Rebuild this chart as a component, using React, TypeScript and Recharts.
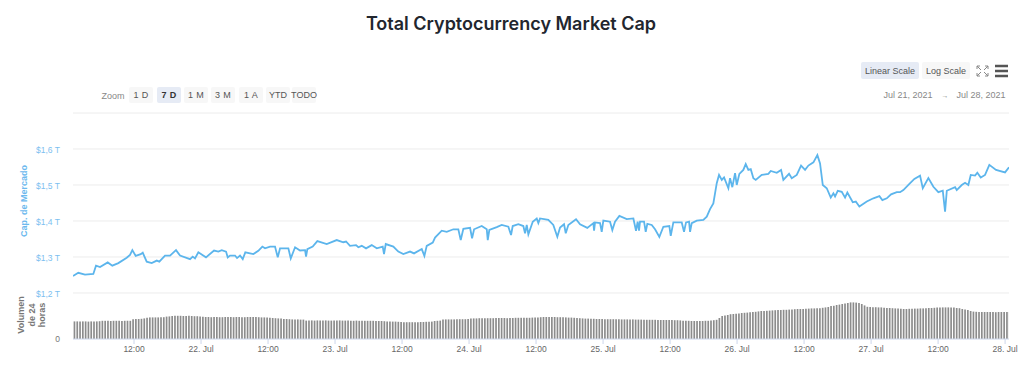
import React from "react";
import { ComposedChart, Line, Bar, XAxis, YAxis, CartesianGrid } from "recharts";

const TITLE = "Total Cryptocurrency Market Cap";
const ZOOM_BUTTONS = ["1 D", "7 D", "1 M", "3 M", "1 A", "YTD", "TODO"];
const ACTIVE_ZOOM = "7 D";
const SCALE_BUTTONS = ["Linear Scale", "Log Scale"];
const PRICE_TICKS = [1.2, 1.3, 1.4, 1.5, 1.6, 1.7];
const TIME_TICKS = [12, 24, 36, 48, 60, 72, 84, 96, 108, 120, 132, 144, 156, 168];
const DAY_LABELS: Record<number, string> = { 24: "22. Jul", 48: "23. Jul", 72: "24. Jul", 96: "25. Jul", 120: "26. Jul", 144: "27. Jul", 168: "28. Jul" };

// hours since Jul 21 00:00
const priceHours = [
  1.07, 2.02, 3.22, 4.71, 5.19, 5.91, 7.29, 8.11, 9.19, 10.69, 11.28, 11.7, 12.3, 13.2, 13.56, 14.27, 15.17, 16.07, 16.53, 17.55,
  18.45, 19.52, 20.24, 22.03, 22.51, 22.92, 23.52, 24.89, 26.33, 27.1, 27.71, 28.48, 28.78, 29.19, 30.09, 30.45, 30.98, 31.47, 31.93, 32.78,
  33.37, 34.26, 34.98, 35.46, 36.36, 37.25, 37.74, 38.15, 39.64, 40.07, 40.84, 41.73, 42.63, 42.81, 43.04, 44.0, 44.83, 46.51, 48.3, 49.48,
  49.97, 50.68, 51.76, 52.17, 52.78, 53.55, 54.57, 55.47, 56.54, 56.77, 57.08, 58.44, 59.33, 60.23, 61.43, 62.15, 63.53, 64.0, 64.42, 65.5,
  65.91, 67.11, 68.0, 69.19, 70.08, 70.51, 70.98, 72.18, 72.54, 72.9, 74.27, 75.17, 75.35, 75.63, 76.96, 77.85, 79.04, 79.52, 79.82, 80.83,
  81.72, 82.03, 82.33, 82.62, 83.41, 84.12, 84.41, 84.71, 86.2, 87.09, 87.81, 88.3, 89.01, 89.32, 89.78, 91.16, 91.88, 93.18, 94.26, 94.39,
  94.56, 95.46, 95.76, 96.05, 97.25, 97.66, 98.14, 98.92, 100.24, 101.43, 101.9, 102.2, 102.44, 102.62, 103.34, 103.64, 103.93, 104.72, 105.31, 106.08,
  106.8, 107.87, 108.12, 108.59, 110.09, 110.5, 110.86, 111.4, 111.58, 111.88, 112.78, 113.96, 114.57, 115.16, 115.75, 116.36, 116.77, 117.26, 117.67, 118.44,
  118.74, 119.15, 119.64, 119.94, 120.41, 121.12, 121.55, 122.02, 122.45, 122.92, 123.35, 124.42, 125.6, 126.03, 127.11, 127.88, 128.29, 129.31, 129.79, 130.69,
  131.46, 132.18, 132.77, 133.67, 134.38, 134.86, 135.35, 136.06, 136.78, 137.25, 137.55, 138.03, 138.75, 139.34, 139.75, 140.72, 141.26, 141.9, 143.23, 144.41,
  145.49, 146.02, 146.81, 147.58, 148.6, 149.19, 149.78, 150.86, 151.75, 152.77, 153.26, 154.26, 155.16, 156.05, 156.84, 157.25, 157.56, 159.04, 159.34, 160.24,
  160.83, 161.42, 161.85, 162.62, 163.03, 163.64, 164.41, 165.18, 166.38, 167.99, 168.7,
];

// market cap, trillions of USD
const priceValues = [
  1.247, 1.256, 1.251, 1.253, 1.276, 1.272, 1.285, 1.276, 1.283, 1.298, 1.306, 1.319, 1.303, 1.308, 1.312, 1.287, 1.283, 1.29, 1.287, 1.304,
  1.304, 1.319, 1.304, 1.294, 1.301, 1.296, 1.313, 1.299, 1.318, 1.315, 1.319, 1.315, 1.299, 1.304, 1.304, 1.297, 1.304, 1.294, 1.313, 1.31,
  1.308, 1.317, 1.329, 1.324, 1.329, 1.329, 1.299, 1.324, 1.324, 1.296, 1.327, 1.318, 1.319, 1.301, 1.322, 1.329, 1.344, 1.336, 1.347, 1.341,
  1.343, 1.331, 1.333, 1.327, 1.331, 1.324, 1.333, 1.324, 1.329, 1.308, 1.336, 1.329, 1.315, 1.308, 1.315, 1.31, 1.322, 1.303, 1.331, 1.34,
  1.354, 1.373, 1.37, 1.377, 1.377, 1.347, 1.378, 1.381, 1.352, 1.377, 1.386, 1.377, 1.347, 1.375, 1.383, 1.389, 1.384, 1.361, 1.386, 1.391,
  1.386, 1.366, 1.389, 1.363, 1.398, 1.407, 1.394, 1.407, 1.403, 1.389, 1.356, 1.382, 1.391, 1.366, 1.389, 1.405, 1.391, 1.381, 1.394, 1.373,
  1.396, 1.394, 1.37, 1.401, 1.398, 1.375, 1.398, 1.414, 1.405, 1.407, 1.373, 1.398, 1.373, 1.398, 1.398, 1.37, 1.392, 1.389, 1.377, 1.356,
  1.384, 1.386, 1.359, 1.396, 1.396, 1.37, 1.396, 1.398, 1.37, 1.394, 1.401, 1.403, 1.412, 1.433, 1.449, 1.505, 1.528, 1.514, 1.521, 1.491,
  1.519, 1.494, 1.533, 1.5, 1.531, 1.542, 1.558, 1.542, 1.544, 1.519, 1.514, 1.528, 1.531, 1.539, 1.534, 1.542, 1.514, 1.531, 1.519, 1.528,
  1.554, 1.542, 1.554, 1.563, 1.583, 1.56, 1.5, 1.491, 1.465, 1.477, 1.468, 1.484, 1.481, 1.465, 1.479, 1.452, 1.454, 1.44, 1.454, 1.463,
  1.469, 1.458, 1.463, 1.474, 1.48, 1.48, 1.486, 1.503, 1.517, 1.526, 1.491, 1.519, 1.495, 1.48, 1.484, 1.426, 1.484, 1.494, 1.486, 1.5,
  1.506, 1.5, 1.528, 1.526, 1.534, 1.521, 1.528, 1.556, 1.542, 1.535, 1.549,
];

// 24h volume, billions of USD, one bar per half hour
const volumeValues = [
  88, 88, 87, 88, 88, 87, 88, 88, 88, 89,
  91, 91, 91, 90, 91, 91, 91, 90, 91, 91, 91,
  99, 100, 100, 101, 103,
  106, 108, 108, 108, 108, 109, 109,
  112, 113, 115, 116, 116, 116, 115, 115, 116, 115, 114, 114, 113,
  111, 110, 110, 109, 110, 110, 109, 109, 110, 110, 110, 109, 110, 110, 109, 109, 110, 110, 110, 110, 109, 108, 108, 107, 106,
  105, 104, 103, 103,
  100, 100, 99, 98, 98, 98, 97, 97,
  92, 92, 93, 92, 93, 93, 93, 93, 92, 92, 92, 93, 93, 92,
  92, 92, 91, 91, 92, 91, 91, 91, 91, 91, 91, 90,
  90, 90, 89, 88, 88, 87, 87, 86, 85, 84,
  84, 84, 84, 84, 84, 85, 85, 86, 86, 87,
  90, 91, 92,
  97, 98, 98, 98, 98, 99, 99, 99, 99, 100,
  103, 103, 103, 104, 104, 104, 104, 104, 104, 105, 105, 105, 105, 104, 105, 105, 106, 106, 106, 106, 106, 106,
  107, 107, 108, 109, 110, 110,
  110, 110, 110, 109, 109, 109, 108, 107, 107,
  106, 105, 104, 103, 102, 102, 101, 101, 100, 100, 100,
  99, 99, 99, 99, 99, 99, 98, 98, 98, 98, 98, 97, 97, 97,
  96, 96, 96, 96, 96, 95, 95, 95, 95, 95, 95, 94, 94, 93,
  91, 91, 91, 90, 90, 90, 90, 90, 91, 91, 92,
  94, 96, 105,
  115, 118, 120, 124,
  125, 126, 127, 130, 131,
  132, 134, 135, 136, 138, 140,
  140, 141, 142, 143, 144, 145, 145,
  146, 146, 147, 148, 149, 150, 150,
  150, 151, 152, 153, 153, 154,
  154, 156, 158, 160, 165,
  166, 170, 172, 175,
  178, 180, 183,
  183, 182,
  180, 175, 168,
  161, 160, 159, 159, 158,
  158, 156, 155, 155, 154,
  153, 152, 151, 150,
  150, 151, 151, 152, 152, 153, 153, 154, 155,
  155, 156, 157, 157, 158, 158,
  158, 157, 157, 155, 154,
  150, 148, 145, 140,
  137, 136, 135, 135, 135, 135, 135,
  135, 134, 135, 135, 135, 135, 135,
];

const priceRows = priceHours.map((hour, i) => ({ hour, price: priceValues[i] }));
const volumeRows = volumeValues.map((volume, i) => ({ hour: 1.25 + i * 0.5, volume }));

const SANS = '"Liberation Sans", Arial, sans-serif';
const box = (left: number, top: number, width: number, height: number): React.CSSProperties => ({
  position: "absolute", left, top, width, height, display: "flex", alignItems: "center", justifyContent: "center",
  fontFamily: SANS, fontSize: 9, color: "#555", borderRadius: 2, whiteSpace: "nowrap",
});
const ZOOM_X = [129, 157, 184, 211, 239, 266, 292];
const MARGIN = { top: 113, right: 15, bottom: 0, left: 0 };
const X_DOMAIN: [number, number] = [1.07, 168.7];

export default function App() {
  return (
    <div style={{ position: "absolute", left: 0, top: 0, width: 1024, height: 367, background: "#fff", overflow: "hidden" }}>
      <ComposedChart width={1024} height={367} data={priceRows} margin={MARGIN} style={{ position: "absolute", left: 0, top: 0 }}>
        <CartesianGrid yAxisId="p" horizontal vertical={false} stroke="#ececec" syncWithTicks />
        <XAxis dataKey="hour" type="number" domain={X_DOMAIN} allowDataOverflow ticks={TIME_TICKS} height={28} tick={false} axisLine={false} tickLine={false} />
        <YAxis yAxisId="p" type="number" domain={[1.0722, 1.7]} allowDataOverflow ticks={PRICE_TICKS} width={73} axisLine={false} tickLine={false} tickMargin={7}
          tickFormatter={(v: number) => (v >= 1.65 ? "" : "$" + v.toFixed(1).replace(".", ",") + " T")} tick={{ fill: "#7cc0f0", fontSize: 8.5, fontFamily: SANS, dy: 1 }} />
      </ComposedChart>
      <ComposedChart width={1024} height={367} data={volumeRows} margin={MARGIN} style={{ position: "absolute", left: 0, top: 0 }}>
        <XAxis dataKey="hour" type="number" domain={X_DOMAIN} allowDataOverflow ticks={TIME_TICKS} tickFormatter={(h: number) => DAY_LABELS[h] ?? "12:00"}
          height={28} interval={0} stroke="#ccd6eb" tickSize={5} tickMargin={2} tick={{ fill: "#666", fontSize: 8.5, fontFamily: SANS }} />
        <YAxis yAxisId="v" type="number" domain={[0, 1130]} width={73} tick={false} axisLine={false} tickLine={false} />
        <Bar yAxisId="v" dataKey="volume" fill="#8c8c8c" barSize={1.7} isAnimationActive={false} />
      </ComposedChart>
      <ComposedChart width={1024} height={367} data={priceRows} margin={MARGIN} style={{ position: "absolute", left: 0, top: 0 }}>
        <XAxis dataKey="hour" type="number" domain={X_DOMAIN} allowDataOverflow height={28} tick={false} axisLine={false} tickLine={false} />
        <YAxis yAxisId="p" type="number" domain={[1.0722, 1.7]} allowDataOverflow width={73} tick={false} axisLine={false} tickLine={false} />
        <Line yAxisId="p" dataKey="price" stroke="#5cb5ec" strokeWidth={1.8} dot={false} type="linear" isAnimationActive={false} />
      </ComposedChart>

      <div style={{ position: "absolute", left: 0, width: 1022, top: 12, textAlign: "center", fontFamily: "Inter, sans-serif", fontWeight: 600, fontSize: 18, color: "#22262e", lineHeight: "24px" }}>{TITLE}</div>

      <div style={{ ...box(101, 87, 24, 17), color: "#888" }}>Zoom</div>
      {ZOOM_BUTTONS.map((b, i) => (
        <div key={b} style={{ ...box(ZOOM_X[i], 87, 24, 16), background: b === ACTIVE_ZOOM ? "#e6ebf5" : "#f7f7f7", color: b === ACTIVE_ZOOM ? "#333" : "#555", fontWeight: b === ACTIVE_ZOOM ? 700 : 400, letterSpacing: b.length === 3 && b[1] === " " ? 0.4 : 0 }}>{b}</div>
      ))}

      <div style={{ ...box(861, 62, 58, 17), background: "#e6ebf5" }}>{SCALE_BUTTONS[0]}</div>
      <div style={{ ...box(922, 62, 48, 17), background: "#f7f7f7" }}>{SCALE_BUTTONS[1]}</div>
      <svg width={40} height={18} style={{ position: "absolute", left: 973, top: 62 }}>
        <g stroke="#888" strokeWidth={1} fill="none">
          <path d="M4 4 L8 8 M4 4 h3 M4 4 v3 M15 4 L11 8 M15 4 h-3 M15 4 v3 M4 14 L8 10 M4 14 h3 M4 14 v-3 M15 14 L11 10 M15 14 h-3 M15 14 v-3" />
        </g>
        <g stroke="#555" strokeWidth={2.5}>
          <path d="M22 4 H35 M22 9 H35 M22 14 H35" />
        </g>
      </svg>

      <div style={{ ...box(884, 87, 48, 16), color: "#888" }}>Jul 21, 2021</div>
      <div style={{ ...box(940, 87, 10, 16), color: "#888", fontSize: 7 }}>→</div>
      <div style={{ ...box(957, 87, 48, 16), color: "#888" }}>Jul 28, 2021</div>

      <div style={{ position: "absolute", left: 24, top: 201, transform: "translate(-50%,-50%) rotate(-90deg)", fontFamily: SANS, fontSize: 9, fontWeight: 700, color: "#6cb9ee", whiteSpace: "nowrap" }}>Cap. de Mercado</div>
      <div style={{ position: "absolute", left: 32, top: 315, transform: "translate(-50%,-50%) rotate(-90deg)", fontFamily: SANS, fontSize: 9, fontWeight: 700, color: "#777", textAlign: "center", lineHeight: "10.5px", whiteSpace: "nowrap" }}>Volumen<br />de 24<br />horas</div>
      <div style={{ position: "absolute", left: 51, top: 334, width: 9, textAlign: "right", fontFamily: SANS, fontSize: 8.5, color: "#777", lineHeight: "10px" }}>0</div>
    </div>
  );
}
